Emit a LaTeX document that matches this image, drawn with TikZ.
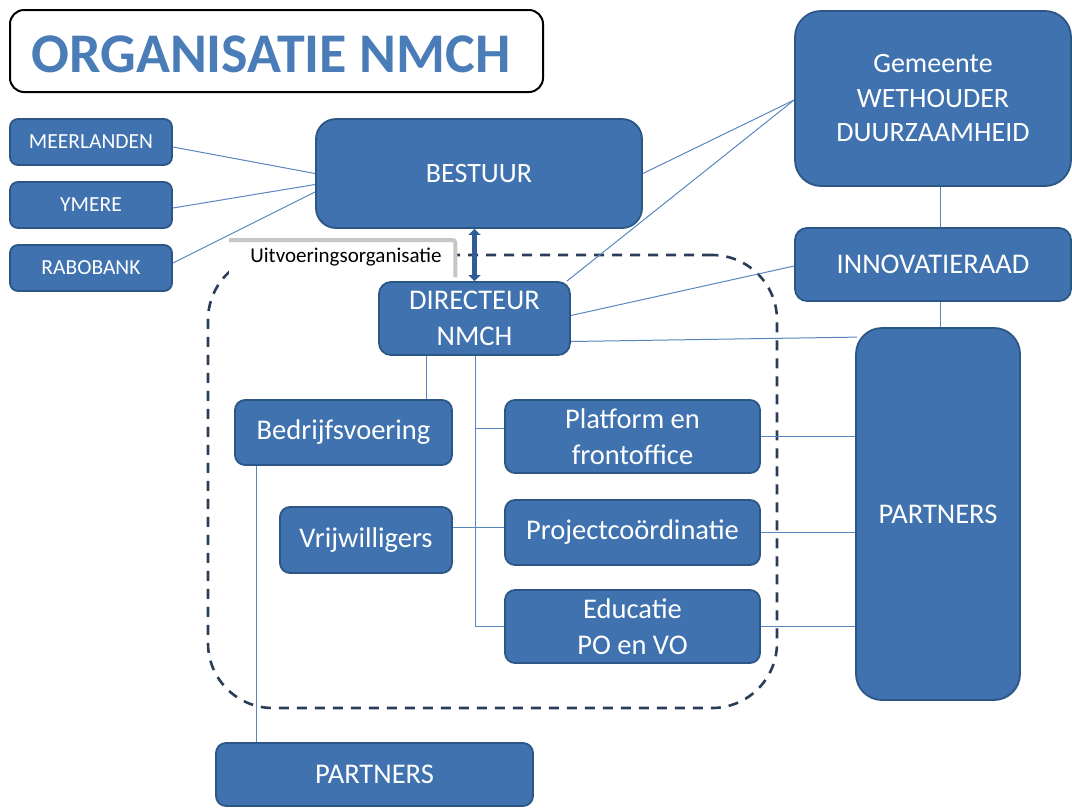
\documentclass[tikz,border=0pt]{standalone}
\usepackage{fontspec}
\setmainfont{Carlito}
\usetikzlibrary{backgrounds,arrows.meta,calc}
\definecolor{boxfill}{HTML}{3F72AF}
\definecolor{boxline}{HTML}{2C5685}
\definecolor{connc}{HTML}{5A86BE}
\definecolor{titlec}{HTML}{4A7DB8}
\definecolor{dashc}{HTML}{2A3D58}
\definecolor{arrowc}{HTML}{2E5E94}
\begin{document}
\begin{tikzpicture}[x=1pt,y=-1pt,
  box/.style={draw=boxline, line width=1.8pt, fill=boxfill, text=white, rounded corners=#1, inner sep=0pt, align=center, font=\fontsize{28.5}{35.5}\selectfont},
  box/.default=10pt,
  smallbox/.style={box=8pt, font=\fontsize{21.5}{25}\selectfont},
  conn/.style={draw=connc, line width=1pt},
  frame/.style={draw=dashc, line width=2.6pt, dash pattern=on 10pt off 8pt, rounded corners=65pt, inner sep=0pt}]
\useasboundingbox (0,0) rectangle (1072,807);

% title
\node[draw=black, line width=2pt, rounded corners=14pt, fill=white, minimum width=533pt, minimum height=82pt, inner sep=0pt] (title) at (276.5,51) {};
\node[text=titlec, font=\fontsize{56}{60}\selectfont\bfseries, inner sep=0pt] (titletext) at (271,54) {ORGANISATIE NMCH};

% boxes
\node[smallbox, minimum width=162pt, minimum height=46pt] (meer) at (91,142) {MEERLANDEN};
\node[smallbox, minimum width=162pt, minimum height=46pt] (ymere) at (91,205) {YMERE};
\node[smallbox, minimum width=162pt, minimum height=46pt] (rabo) at (91,268) {RABOBANK};
\node[box=20pt, minimum width=326pt, minimum height=109pt, font=\fontsize{28}{34}\selectfont] (bestuur) at (479,173.5) {BESTUUR};
\node[box=26pt, minimum width=276pt, minimum height=175pt, font=\fontsize{28}{34.5}\selectfont] (gemeente) at (933,98.5) {Gemeente\\WETHOUDER\\DUURZAAMHEID};
\node[box=12pt, minimum width=276pt, minimum height=73pt] (innov) at (933,264.5) {INNOVATIERAAD};
\node[box=12pt, minimum width=191pt, minimum height=73pt] (dir) at (474.5,318.5) {DIRECTEUR\\NMCH};
\node[box, minimum width=217pt, minimum height=65pt] (bedr) at (343.5,432.5) {Bedrijfsvoering};
\node[box, minimum width=255pt, minimum height=73pt] (plat) at (632.5,436.5) {Platform en\\frontoffice};
\node[box, minimum width=172pt, minimum height=66pt] (vrij) at (366,540) {Vrijwilligers};
\node[box, minimum width=255pt, minimum height=65pt] (proj) at (632.5,532.5) {Projectcoördinatie};
\node[box, minimum width=255pt, minimum height=73pt] (edu) at (632.5,626.5) {Educatie\\PO en VO};
\node[box=26pt, minimum width=164pt, minimum height=372pt] (partR) at (938,514) {PARTNERS};
\node[box, minimum width=317pt, minimum height=63pt] (partB) at (374.5,774.5) {PARTNERS};

% label
\node[fill=white, inner sep=0pt, minimum width=228pt, minimum height=39pt, anchor=north west] (lab) at (229,238) {};
\node[inner sep=0pt, font=\fontsize{21}{25}\selectfont] (labtext) at (346,257) {Uitvoeringsorganisatie};
\draw[gray!45, line width=4pt, rounded corners=3pt] ($(lab.north west)+(0,2)$) -- ($(lab.north east)+(-2,2)$) -- ($(lab.south east)+(-2,0)$);

\begin{scope}[on background layer]
  \node[frame, minimum width=569pt, minimum height=453pt] (uitv) at (492.5,481.5) {};
  \coordinate (d1) at ($(dir.south)+(-48.5,0)$);
  \coordinate (d2) at ($(dir.south)+(0.5,0)$);
  \coordinate (pw) at ($(plat.west)+(0,-8)$);
  \coordinate (b1) at ($(bedr.south west)+(22,0)$);
  \draw[conn] ($(meer.east)+(0,5)$) -- (bestuur.west);
  \draw[conn] ($(ymere.east)+(0,3)$) -- ($(bestuur.west)+(0,11)$);
  \draw[conn] ($(rabo.east)+(0,-5)$) -- ($(bestuur.west)+(0,18.5)$);
  \draw[conn] (bestuur.east) -- ($(gemeente.west)+(0,1.5)$);
  \draw[conn] ($(dir.north east)+(-4,0)$) -- ($(gemeente.west)+(0,1.5)$);
  \draw[conn] ($(gemeente.south)+(7,0)$) -- ($(innov.north)+(7,0)$);
  \draw[conn] ($(innov.south)+(7,0)$) -- ($(partR.north)+(2,0)$);
  \draw[conn] ($(dir.east)+(0,-3)$) -- ($(innov.west)+(0,1.5)$);
  \draw[conn] ($(dir.east)+(0,23)$) -- ($(partR.north west)+(2,10)$);
  \draw[conn] (d1) -- (d1 |- bedr.north);
  \draw[conn] (d2) -- (d2 |- edu.west) -- (edu.west);
  \draw[conn] (d2 |- pw) -- (pw);
  \draw[conn] ($(vrij.east)+(0,-13)$) -- ($(proj.west)+(0,-5.5)$);
  \draw[conn] (b1) -- (b1 |- partB.north);
  \draw[conn] (plat.east) -- (plat.east -| partR.west);
  \draw[conn] (proj.east) -- (proj.east -| partR.west);
  \draw[conn] (edu.east) -- (edu.east -| partR.west);
\end{scope}

% double arrow
\draw[arrowc, line width=4.5pt, {Triangle[length=6pt,width=12pt]}-{Triangle[length=6pt,width=12pt]}] (dir.north |- bestuur.south) -- (dir.north);
\end{tikzpicture}
\end{document}
